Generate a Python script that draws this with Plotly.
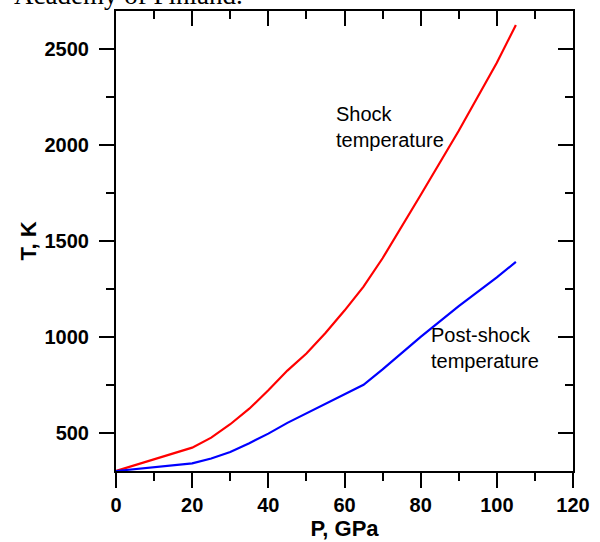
import plotly.graph_objects as go

pressure_shock = [0, 20, 25, 30, 35, 40, 45, 50, 55, 60, 65, 70, 80, 90, 100, 105]
temp_shock = [300, 422, 474, 544, 625, 721, 824, 913, 1020, 1137, 1262, 1410, 1740, 2075, 2430, 2627]

pressure_post = [0, 20, 25, 30, 35, 40, 45, 50, 55, 60, 65, 70, 80, 90, 100, 105]
temp_post = [300, 340, 365, 399, 445, 495, 551, 600, 650, 700, 750, 830, 1000, 1160, 1310, 1391]

x_ticks = [0, 20, 40, 60, 80, 100, 120]
y_ticks = [500, 1000, 1500, 2000, 2500]

FONT = "Liberation Sans, Arial, sans-serif"

fig = go.Figure()
fig.add_trace(go.Scatter(x=pressure_shock, y=temp_shock, mode="lines",
                         line=dict(color="#ff0000", width=2.2), showlegend=False))
fig.add_trace(go.Scatter(x=pressure_post, y=temp_post, mode="lines",
                         line=dict(color="#0000ff", width=2.2), showlegend=False))
# invisible trace to activate mirror axes
fig.add_trace(go.Scatter(x=[0], y=[300], xaxis="x2", yaxis="y2", mode="markers",
                         marker=dict(opacity=0), showlegend=False, hoverinfo="skip"))

axis_common = dict(showgrid=False, zeroline=False, linecolor="black", linewidth=2,
                   tickcolor="black", tickwidth=2, ticklen=15, automargin=False)

fig.update_layout(
    width=600, height=542,
    margin=dict(l=116, r=27, t=11, b=71),
    paper_bgcolor="white", plot_bgcolor="white",
    font=dict(family=FONT, color="black"),
    xaxis=dict(range=[0, 120], tickvals=x_ticks, ticks="outside",
               tickfont=dict(size=20, family=FONT, weight="bold"),
               title=dict(text="<b>P, GPa</b>", font=dict(size=22, family=FONT), standoff=4),
               minor=dict(dtick=10, tick0=0, ticks="outside", ticklen=8, tickwidth=2, tickcolor="black"),
               **axis_common),
    yaxis=dict(range=[300, 2700], tickvals=y_ticks, ticks="outside",
               tickfont=dict(size=20, family=FONT, weight="bold"), ticklabelstandoff=6,
               title=dict(text="<b>T, K</b>", font=dict(size=22, family=FONT), standoff=2),
               minor=dict(dtick=250, tick0=0, ticks="outside", ticklen=8, tickwidth=2, tickcolor="black"),
               **axis_common),
    xaxis2=dict(range=[0, 120], overlaying="x", side="top", tickvals=x_ticks, ticks="inside",
                showticklabels=False,
                minor=dict(dtick=10, tick0=0, ticks="inside", ticklen=8, tickwidth=2, tickcolor="black"),
                **axis_common),
    yaxis2=dict(range=[300, 2700], overlaying="y", side="right", tickvals=y_ticks, ticks="inside",
                showticklabels=False,
                minor=dict(dtick=250, tick0=0, ticks="inside", ticklen=8, tickwidth=2, tickcolor="black"),
                **axis_common),
    annotations=[
        dict(text="Shock<br>temperature", x=57.3, y=1958, xref="x", yref="y",
             xanchor="left", yanchor="bottom", align="left", showarrow=False,
             font=dict(size=20, family=FONT, color="black")),
        dict(text="Post-shock<br>temperature", x=82.3, y=808, xref="x", yref="y",
             xanchor="left", yanchor="bottom", align="left", showarrow=False,
             font=dict(size=20, family=FONT, color="black")),
        dict(text="Academy of Finland.", x=0, y=1, xref="paper", yref="paper",
             showarrow=False, font=dict(size=27, family="Liberation Serif, Times New Roman, serif", color="black"),
             xanchor="left", yanchor="middle"),
    ],
)
# place the caption fragment in pixel terms (paper coords relative to plot area)
plot_h = 542 - 11 - 71
plot_w = 600 - 116 - 27
fig.layout.annotations[2].x = (12 - 116) / plot_w
fig.layout.annotations[2].y = (471 - (-5)) / plot_h

fig.write_html("out.html", config={"displayModeBar": False},
               post_script="document.body.style.margin='0';document.body.style.overflow='hidden';")
